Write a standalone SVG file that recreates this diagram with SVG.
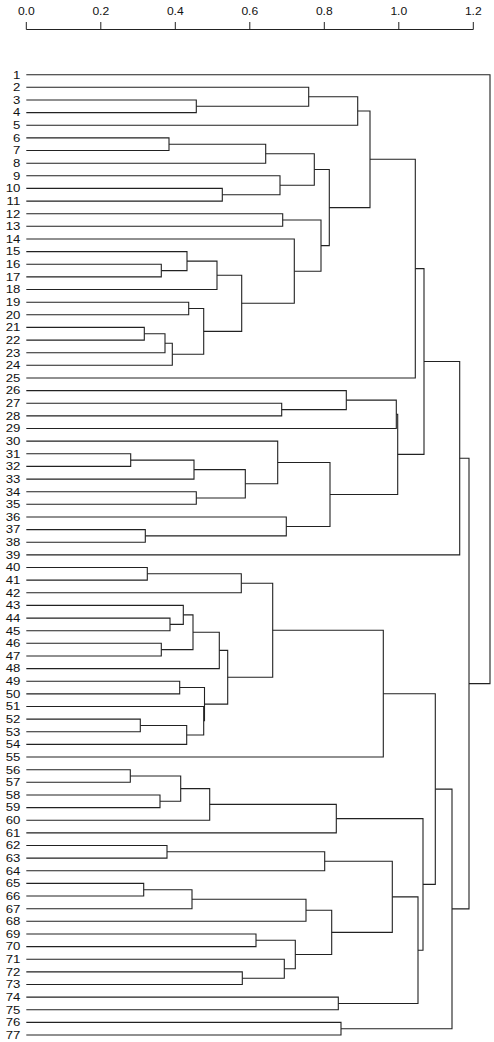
<svg xmlns="http://www.w3.org/2000/svg" width="494" height="1042" viewBox="0 0 494 1042">
<style>
.ax{fill:none;stroke:#222;stroke-width:1}
.ed{fill:none;stroke:#222;stroke-width:1.1;stroke-linejoin:miter}
.al{font-family:"Liberation Sans",Arial,sans-serif;font-size:11px;fill:#111;text-anchor:middle}
.lb{font-family:"Liberation Sans",Arial,sans-serif;font-size:11px;fill:#111;text-anchor:end}
</style>
<rect width="494" height="1042" fill="#fff"/>
<g id="axis">
<path class="ax" d="M26.3 29.5H473.3M26.3 22V29.5M100.8 22V29.5M175.3 22V29.5M249.8 22V29.5M324.3 22V29.5M398.8 22V29.5M473.3 22V29.5"/>
<text class="al" transform="translate(26.3 15) scale(1.1 1)">0.0</text>
<text class="al" transform="translate(100.8 15) scale(1.1 1)">0.2</text>
<text class="al" transform="translate(175.3 15) scale(1.1 1)">0.4</text>
<text class="al" transform="translate(249.8 15) scale(1.1 1)">0.6</text>
<text class="al" transform="translate(324.3 15) scale(1.1 1)">0.8</text>
<text class="al" transform="translate(398.8 15) scale(1.1 1)">1.0</text>
<text class="al" transform="translate(473.3 15) scale(1.1 1)">1.2</text>
</g>
<g id="connectors" class="ed">
<path d="M26.3 100H196.3V112.6H26.3"/>
<path d="M26.3 87.3H308.7V106.3H196.3"/>
<path d="M308.7 96.8H357.7V125.2H26.3"/>
<path d="M26.3 137.9H169V150.5H26.3"/>
<path d="M169 144.2H265.7V163.2H26.3"/>
<path d="M26.3 188.4H222.3V201.1H26.3"/>
<path d="M26.3 175.8H280V194.7H222.3"/>
<path d="M265.7 153.7H314.3V185.3H280"/>
<path d="M26.3 213.7H282.7V226.3H26.3"/>
<path d="M26.3 264.2H161.3V276.9H26.3"/>
<path d="M26.3 251.6H187V270.6H161.3"/>
<path d="M187 261.1H217V289.5H26.3"/>
<path d="M26.3 302.2H188.7V314.8H26.3"/>
<path d="M26.3 327.4H144.3V340.1H26.3"/>
<path d="M144.3 333.7H165V352.7H26.3"/>
<path d="M165 343.2H172.3V365.3H26.3"/>
<path d="M188.7 308.5H203.7V354.3H172.3"/>
<path d="M217 275.3H241.7V331.4H203.7"/>
<path d="M26.3 239H294.3V303.3H241.7"/>
<path d="M282.7 220H321V271.2H294.3"/>
<path d="M314.3 169.5H329.3V245.6H321"/>
<path d="M357.7 111H370V207.6H329.3"/>
<path d="M370 159.3H415.3V378H26.3"/>
<path d="M26.3 403.2H281.7V415.9H26.3"/>
<path d="M26.3 390.6H346.3V409.6H281.7"/>
<path d="M346.3 400.1H396.3V428.5H26.3"/>
<path d="M26.3 453.8H130.7V466.4H26.3"/>
<path d="M130.7 460.1H194V479.1H26.3"/>
<path d="M26.3 491.7H196.3V504.3H26.3"/>
<path d="M194 469.6H245.3V498H196.3"/>
<path d="M26.3 441.1H277.7V483.8H245.3"/>
<path d="M26.3 529.6H145.3V542.2H26.3"/>
<path d="M26.3 517H286.3V535.9H145.3"/>
<path d="M277.7 462.5H330V526.5H286.3"/>
<path d="M396.3 414.3H397.7V494.5H330"/>
<path d="M415.3 268.6H424V454.4H397.7"/>
<path d="M424 361.5H459.7V554.9H26.3"/>
<path d="M26.3 567.5H147.3V580.1H26.3"/>
<path d="M147.3 573.8H241.3V592.8H26.3"/>
<path d="M26.3 618.1H170V630.7H26.3"/>
<path d="M26.3 605.4H183.3V624.4H170"/>
<path d="M26.3 643.3H161.3V656H26.3"/>
<path d="M183.3 614.9H193V649.6H161.3"/>
<path d="M193 632.3H219.3V668.6H26.3"/>
<path d="M26.3 681.2H179.7V693.9H26.3"/>
<path d="M26.3 719.1H140.3V731.8H26.3"/>
<path d="M140.3 725.5H186.7V744.4H26.3"/>
<path d="M26.3 706.5H203.7V735H186.7"/>
<path d="M179.7 687.5H204.5V720.7H203.7"/>
<path d="M219.3 650.4H227.7V704.1H204.5"/>
<path d="M241.3 583.3H272.7V677.3H227.7"/>
<path d="M272.7 630.3H383.3V757H26.3"/>
<path d="M26.3 769.7H130.3V782.3H26.3"/>
<path d="M26.3 795H160V807.6H26.3"/>
<path d="M130.3 776H180.7V801.3H160"/>
<path d="M180.7 788.6H209.7V820.2H26.3"/>
<path d="M209.7 804.4H336.3V832.9H26.3"/>
<path d="M26.3 845.5H167V858.1H26.3"/>
<path d="M167 851.8H324.7V870.8H26.3"/>
<path d="M26.3 883.4H143.7V896H26.3"/>
<path d="M143.7 889.7H192V908.7H26.3"/>
<path d="M192 899.2H306V921.3H26.3"/>
<path d="M26.3 934H256V946.6H26.3"/>
<path d="M26.3 971.9H242.3V984.5H26.3"/>
<path d="M26.3 959.2H284.3V978.2H242.3"/>
<path d="M256 940.3H295.3V968.7H284.3"/>
<path d="M306 910.3H331.7V954.5H295.3"/>
<path d="M324.7 861.3H392.3V932.4H331.7"/>
<path d="M26.3 997.1H338.3V1009.8H26.3"/>
<path d="M392.3 896.9H418V1003.5H338.3"/>
<path d="M336.3 818.6H423V950.2H418"/>
<path d="M383.3 693.7H435.3V884.4H423"/>
<path d="M26.3 1022.4H341V1035H26.3"/>
<path d="M435.3 789.1H452V1028.7H341"/>
<path d="M459.7 458.2H469V908.9H452"/>
<path d="M26.3 74.7H490V683.6H469"/>
</g>
<g id="leaves" class="lb" transform="translate(20.3 3.9) scale(1.2 1)">
<g id="leaf1"><text x="0" y="74.7">1</text></g>
<g id="leaf2"><text x="0" y="87.3">2</text></g>
<g id="leaf3"><text x="0" y="100">3</text></g>
<g id="leaf4"><text x="0" y="112.6">4</text></g>
<g id="leaf5"><text x="0" y="125.2">5</text></g>
<g id="leaf6"><text x="0" y="137.9">6</text></g>
<g id="leaf7"><text x="0" y="150.5">7</text></g>
<g id="leaf8"><text x="0" y="163.2">8</text></g>
<g id="leaf9"><text x="0" y="175.8">9</text></g>
<g id="leaf10"><text x="0" y="188.4">10</text></g>
<g id="leaf11"><text x="0" y="201.1">11</text></g>
<g id="leaf12"><text x="0" y="213.7">12</text></g>
<g id="leaf13"><text x="0" y="226.3">13</text></g>
<g id="leaf14"><text x="0" y="239">14</text></g>
<g id="leaf15"><text x="0" y="251.6">15</text></g>
<g id="leaf16"><text x="0" y="264.2">16</text></g>
<g id="leaf17"><text x="0" y="276.9">17</text></g>
<g id="leaf18"><text x="0" y="289.5">18</text></g>
<g id="leaf19"><text x="0" y="302.2">19</text></g>
<g id="leaf20"><text x="0" y="314.8">20</text></g>
<g id="leaf21"><text x="0" y="327.4">21</text></g>
<g id="leaf22"><text x="0" y="340.1">22</text></g>
<g id="leaf23"><text x="0" y="352.7">23</text></g>
<g id="leaf24"><text x="0" y="365.3">24</text></g>
<g id="leaf25"><text x="0" y="378">25</text></g>
<g id="leaf26"><text x="0" y="390.6">26</text></g>
<g id="leaf27"><text x="0" y="403.2">27</text></g>
<g id="leaf28"><text x="0" y="415.9">28</text></g>
<g id="leaf29"><text x="0" y="428.5">29</text></g>
<g id="leaf30"><text x="0" y="441.1">30</text></g>
<g id="leaf31"><text x="0" y="453.8">31</text></g>
<g id="leaf32"><text x="0" y="466.4">32</text></g>
<g id="leaf33"><text x="0" y="479.1">33</text></g>
<g id="leaf34"><text x="0" y="491.7">34</text></g>
<g id="leaf35"><text x="0" y="504.3">35</text></g>
<g id="leaf36"><text x="0" y="517">36</text></g>
<g id="leaf37"><text x="0" y="529.6">37</text></g>
<g id="leaf38"><text x="0" y="542.2">38</text></g>
<g id="leaf39"><text x="0" y="554.9">39</text></g>
<g id="leaf40"><text x="0" y="567.5">40</text></g>
<g id="leaf41"><text x="0" y="580.1">41</text></g>
<g id="leaf42"><text x="0" y="592.8">42</text></g>
<g id="leaf43"><text x="0" y="605.4">43</text></g>
<g id="leaf44"><text x="0" y="618.1">44</text></g>
<g id="leaf45"><text x="0" y="630.7">45</text></g>
<g id="leaf46"><text x="0" y="643.3">46</text></g>
<g id="leaf47"><text x="0" y="656">47</text></g>
<g id="leaf48"><text x="0" y="668.6">48</text></g>
<g id="leaf49"><text x="0" y="681.2">49</text></g>
<g id="leaf50"><text x="0" y="693.9">50</text></g>
<g id="leaf51"><text x="0" y="706.5">51</text></g>
<g id="leaf52"><text x="0" y="719.1">52</text></g>
<g id="leaf53"><text x="0" y="731.8">53</text></g>
<g id="leaf54"><text x="0" y="744.4">54</text></g>
<g id="leaf55"><text x="0" y="757">55</text></g>
<g id="leaf56"><text x="0" y="769.7">56</text></g>
<g id="leaf57"><text x="0" y="782.3">57</text></g>
<g id="leaf58"><text x="0" y="795">58</text></g>
<g id="leaf59"><text x="0" y="807.6">59</text></g>
<g id="leaf60"><text x="0" y="820.2">60</text></g>
<g id="leaf61"><text x="0" y="832.9">61</text></g>
<g id="leaf62"><text x="0" y="845.5">62</text></g>
<g id="leaf63"><text x="0" y="858.1">63</text></g>
<g id="leaf64"><text x="0" y="870.8">64</text></g>
<g id="leaf65"><text x="0" y="883.4">65</text></g>
<g id="leaf66"><text x="0" y="896">66</text></g>
<g id="leaf67"><text x="0" y="908.7">67</text></g>
<g id="leaf68"><text x="0" y="921.3">68</text></g>
<g id="leaf69"><text x="0" y="934">69</text></g>
<g id="leaf70"><text x="0" y="946.6">70</text></g>
<g id="leaf71"><text x="0" y="959.2">71</text></g>
<g id="leaf72"><text x="0" y="971.9">72</text></g>
<g id="leaf73"><text x="0" y="984.5">73</text></g>
<g id="leaf74"><text x="0" y="997.1">74</text></g>
<g id="leaf75"><text x="0" y="1009.8">75</text></g>
<g id="leaf76"><text x="0" y="1022.4">76</text></g>
<g id="leaf77"><text x="0" y="1035">77</text></g>
</g>
</svg>
